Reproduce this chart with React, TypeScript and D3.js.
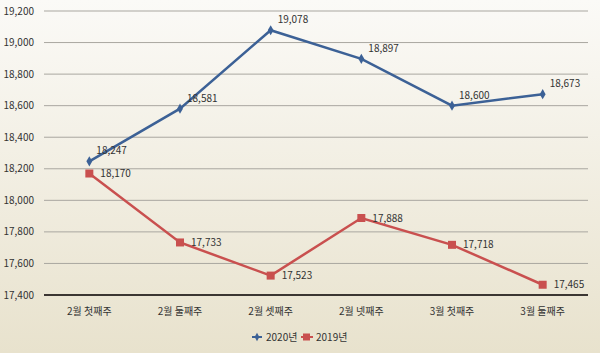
import React, { useEffect, useRef } from 'react';
import * as d3 from 'd3';

const categories = ['2월 첫째주', '2월 둘째주', '2월 셋째주', '2월 넷째주', '3월 첫째주', '3월 둘째주'];
const values2020 = [18247, 18581, 19078, 18897, 18600, 18673];
const values2019 = [18170, 17733, 17523, 17888, 17718, 17465];
const yTicks = [17400, 17600, 17800, 18000, 18200, 18400, 18600, 18800, 19000, 19200];

const W = 600;
const H = 353;
const FONT = '"Liberation Sans Narrow", "Noto Sans CJK KR", "DejaVu Sans Condensed", sans-serif';

function App() {
  const ref = useRef<SVGSVGElement>(null);

  useEffect(() => {
    if (!ref.current) return;
    const svg = d3.select(ref.current);
    svg.selectAll('*').remove();

    // background gradient
    const defs = svg.append('defs');
    const grad = defs.append('linearGradient').attr('id', 'bg').attr('x1', 0).attr('y1', 0).attr('x2', 0).attr('y2', 1);
    grad.append('stop').attr('offset', '0%').attr('stop-color', '#fbfaf7');
    grad.append('stop').attr('offset', '100%').attr('stop-color', '#e8e2cd');
    svg.append('rect').attr('width', W).attr('height', H).attr('fill', 'url(#bg)');

    const x = d3.scaleBand().domain(categories).range([44, 588]);
    const y = d3.scaleLinear().domain([17400, 19200]).range([295, 11]);
    const cx = (c: string) => (x(c) as number) + x.bandwidth() / 2;

    // gridlines
    svg.append('g')
      .selectAll('line')
      .data(yTicks.slice(1))
      .join('line')
      .attr('x1', 44).attr('x2', 588)
      .attr('y1', d => y(d)).attr('y2', d => y(d))
      .attr('stroke', '#a9a7a0').attr('stroke-width', 1);

    // y labels
    svg.append('g')
      .selectAll('text')
      .data(yTicks)
      .join('text')
      .attr('x', 34).attr('y', d => y(d) + 3.5)
      .attr('text-anchor', 'end')
      .attr('font-family', FONT).attr('font-size', 10).attr('fill', '#333')
      .text(d => d3.format(',')(d));

    // x axis
    svg.append('line')
      .attr('x1', 44).attr('x2', 588).attr('y1', 295).attr('y2', 295)
      .attr('stroke', '#3b3632').attr('stroke-width', 2);
    svg.append('g')
      .selectAll('text')
      .data(categories)
      .join('text')
      .attr('x', d => cx(d)).attr('y', 315)
      .attr('text-anchor', 'middle')
      .attr('font-family', FONT).attr('font-size', 10).attr('fill', '#333')
      .text(d => d);

    const line = d3.line<number>().x((_, i) => cx(categories[i])).y(d => y(d));

    // 2019 series
    svg.append('path').datum(values2019).attr('d', line)
      .attr('fill', 'none').attr('stroke', '#c9504f').attr('stroke-width', 2.5);
    svg.append('g').selectAll('rect').data(values2019).join('rect')
      .attr('x', (_, i) => cx(categories[i]) - 4).attr('y', d => y(d) - 4)
      .attr('width', 8).attr('height', 8).attr('fill', '#c9504f');

    // 2020 series
    svg.append('path').datum(values2020).attr('d', line)
      .attr('fill', 'none').attr('stroke', '#3c6196').attr('stroke-width', 2.5);
    svg.append('g').selectAll('path.m').data(values2020).join('path')
      .attr('class', 'm')
      .attr('d', d3.symbol(d3.symbolDiamond, 30)())
      .attr('transform', (d, i) => `translate(${cx(categories[i])},${y(d)})`)
      .attr('fill', '#3c6196');

    // data labels
    const fmt = d3.format(',');
    svg.append('g').selectAll('text').data(values2020).join('text')
      .attr('x', (_, i) => cx(categories[i]) + 7).attr('y', d => y(d) - 7)
      .attr('font-family', FONT).attr('font-size', 10).attr('fill', '#333')
      .text(d => fmt(d));
    svg.append('g').selectAll('text').data(values2019).join('text')
      .attr('x', (_, i) => cx(categories[i]) + 11).attr('y', d => y(d) + 3.5)
      .attr('font-family', FONT).attr('font-size', 10).attr('fill', '#333')
      .text(d => fmt(d));

    // legend
    const lg = svg.append('g').attr('transform', 'translate(0,337)');
    lg.append('line').attr('x1', 252).attr('x2', 262).attr('y1', 0).attr('y2', 0)
      .attr('stroke', '#3c6196').attr('stroke-width', 2);
    lg.append('path').attr('d', d3.symbol(d3.symbolDiamond, 20)())
      .attr('transform', 'translate(257,0)').attr('fill', '#3c6196');
    lg.append('text').attr('x', 266).attr('y', 3.5)
      .attr('font-family', FONT).attr('font-size', 10).attr('fill', '#333').text('2020년');
    lg.append('line').attr('x1', 301).attr('x2', 313).attr('y1', 0).attr('y2', 0)
      .attr('stroke', '#c9504f').attr('stroke-width', 2);
    lg.append('rect').attr('x', 303).attr('y', -3.5).attr('width', 7).attr('height', 7).attr('fill', '#c9504f');
    lg.append('text').attr('x', 316).attr('y', 3.5)
      .attr('font-family', FONT).attr('font-size', 10).attr('fill', '#333').text('2019년');
  }, []);

  return <svg ref={ref} width={W} height={H} style={{ position: 'absolute', left: 0, top: 0 }} />;
}

export default App;
